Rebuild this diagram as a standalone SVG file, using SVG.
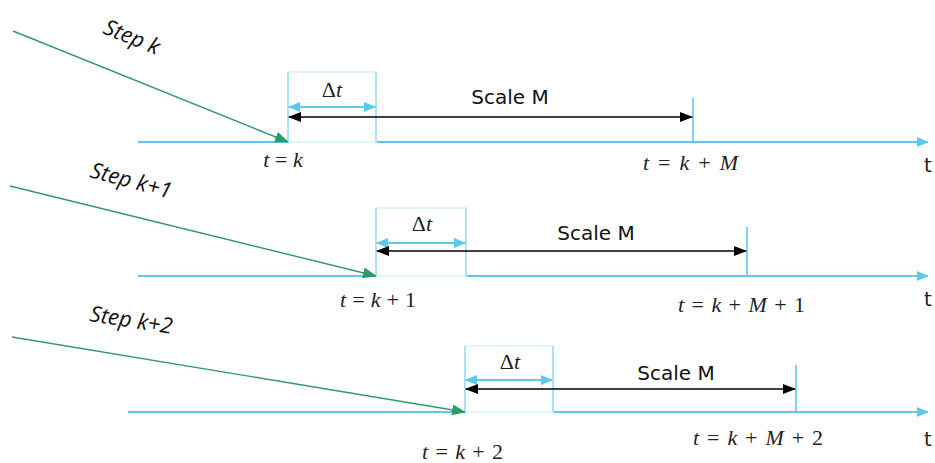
<svg xmlns="http://www.w3.org/2000/svg" width="935" height="463" viewBox="0 0 935 463">
<defs>
<style>
.axis{stroke:#5cc8ec;stroke-width:2;fill:none}
.box{fill:none;stroke:#dff4fb;stroke-width:2}
.side{stroke:#a9e3f6;stroke-width:2}
.tick{stroke:#5cc8ec;stroke-width:1.6}
.dt{stroke:#5cc8ec;stroke-width:2}
.blk{stroke:#000;stroke-width:1.6}
.grn{stroke:#2e9a6a;stroke-width:1.4}
.step{font-family:"Open Sans","Noto Sans",sans-serif;font-style:italic;font-size:22px;fill:#111}
.scale{font-family:"DejaVu Sans","Noto Sans",sans-serif;font-size:20px;fill:#111}
.math{font-family:"Liberation Serif","Times New Roman",serif;font-size:22px;fill:#222}
.tl{font-family:"DejaVu Sans","Noto Sans",sans-serif;font-size:20px;fill:#222}
</style>
<marker id="ac" markerWidth="12" markerHeight="10" refX="11" refY="5" orient="auto" markerUnits="userSpaceOnUse"><path d="M0,0 L12,5 L0,10 Z" fill="#5cc8ec"/></marker>
<marker id="acs" markerWidth="12" markerHeight="10" refX="1" refY="5" orient="auto" markerUnits="userSpaceOnUse"><path d="M12,0 L0,5 L12,10 Z" fill="#5cc8ec"/></marker>
<marker id="ab" markerWidth="13" markerHeight="10" refX="12" refY="5" orient="auto" markerUnits="userSpaceOnUse"><path d="M0,0 L13,5 L0,10 Z" fill="#000"/></marker>
<marker id="abs" markerWidth="13" markerHeight="10" refX="1" refY="5" orient="auto" markerUnits="userSpaceOnUse"><path d="M13,0 L0,5 L13,10 Z" fill="#000"/></marker>
<marker id="ag" markerWidth="14" markerHeight="11" refX="13" refY="5.5" orient="auto" markerUnits="userSpaceOnUse"><path d="M0,0 L14,5.5 L0,11 Z" fill="#2e9a6a"/></marker>
</defs>
<rect width="935" height="463" fill="#fff"/>

<g id="row1">
<line class="axis" x1="138" y1="142" x2="928" y2="142" marker-end="url(#ac)"/>
<rect class="box" x="288" y="72" width="88" height="70"/>
<line class="side" x1="288" y1="72" x2="288" y2="142"/>
<line class="side" x1="376" y1="72" x2="376" y2="142"/>
<line class="tick" x1="693" y1="98" x2="693" y2="142"/>
<line class="dt" x1="289" y1="107" x2="375" y2="107" marker-start="url(#acs)" marker-end="url(#ac)"/>
<line class="blk" x1="289" y1="117" x2="692" y2="117" marker-start="url(#abs)" marker-end="url(#ab)"/>
<text class="math" x="332" y="97" text-anchor="middle">Δ<tspan font-style="italic">t</tspan></text>
<text class="scale" x="510" y="104" text-anchor="middle">Scale M</text>
<text class="math" x="283" y="167" text-anchor="middle"><tspan font-style="italic">t</tspan> = <tspan font-style="italic">k</tspan></text>
<text class="math" x="643" y="170" textLength="95" lengthAdjust="spacing"><tspan font-style="italic">t</tspan> = <tspan font-style="italic">k</tspan> + <tspan font-style="italic">M</tspan></text>
<text class="tl" x="928" y="172" text-anchor="middle">t</text>
<text class="step" transform="translate(102,33) rotate(22)">Step k</text>
</g>

<g id="row2">
<line class="axis" x1="138" y1="276" x2="928" y2="276" marker-end="url(#ac)"/>
<rect class="box" x="376" y="208" width="90" height="68"/>
<line class="side" x1="376" y1="208" x2="376" y2="276"/>
<line class="side" x1="466" y1="208" x2="466" y2="276"/>
<line class="tick" x1="747" y1="227" x2="747" y2="276"/>
<line class="dt" x1="377" y1="243" x2="465" y2="243" marker-start="url(#acs)" marker-end="url(#ac)"/>
<line class="blk" x1="377" y1="251" x2="746" y2="251" marker-start="url(#abs)" marker-end="url(#ab)"/>
<text class="math" x="422" y="231" text-anchor="middle">Δ<tspan font-style="italic">t</tspan></text>
<text class="scale" x="596" y="240" text-anchor="middle">Scale M</text>
<text class="math" x="340" y="307" textLength="76" lengthAdjust="spacing"><tspan font-style="italic">t</tspan> = <tspan font-style="italic">k</tspan> + 1</text>
<text class="math" x="678" y="312" textLength="127" lengthAdjust="spacing"><tspan font-style="italic">t</tspan> = <tspan font-style="italic">k</tspan> + <tspan font-style="italic">M</tspan> + 1</text>
<text class="tl" x="928" y="306" text-anchor="middle">t</text>
<text class="step" transform="translate(89,177) rotate(15)">Step k+1</text>
</g>

<g id="row3">
<line class="axis" x1="128" y1="412" x2="928" y2="412" marker-end="url(#ac)"/>
<rect class="box" x="465" y="346" width="88" height="66"/>
<line class="side" x1="465" y1="346" x2="465" y2="412"/>
<line class="side" x1="553" y1="346" x2="553" y2="412"/>
<line class="tick" x1="796" y1="365" x2="796" y2="412"/>
<line class="dt" x1="466" y1="380" x2="552" y2="380" marker-start="url(#acs)" marker-end="url(#ac)"/>
<line class="blk" x1="466" y1="389" x2="795" y2="389" marker-start="url(#abs)" marker-end="url(#ab)"/>
<text class="math" x="510" y="369" text-anchor="middle">Δ<tspan font-style="italic">t</tspan></text>
<text class="scale" x="676" y="380" text-anchor="middle">Scale M</text>
<text class="math" x="422" y="459" textLength="81" lengthAdjust="spacing"><tspan font-style="italic">t</tspan> = <tspan font-style="italic">k</tspan> + 2</text>
<text class="math" x="693" y="445" textLength="130" lengthAdjust="spacing"><tspan font-style="italic">t</tspan> = <tspan font-style="italic">k</tspan> + <tspan font-style="italic">M</tspan> + 2</text>
<text class="tl" x="928" y="446" text-anchor="middle">t</text>
<text class="step" transform="translate(89,321) rotate(9)">Step k+2</text>
</g>

<g id="connectors">
<line class="grn" x1="13" y1="31" x2="288" y2="142" marker-end="url(#ag)"/>
<line class="grn" x1="10" y1="186" x2="376" y2="276" marker-end="url(#ag)"/>
<line class="grn" x1="12" y1="337" x2="465" y2="412" marker-end="url(#ag)"/>
</g>
</svg>
